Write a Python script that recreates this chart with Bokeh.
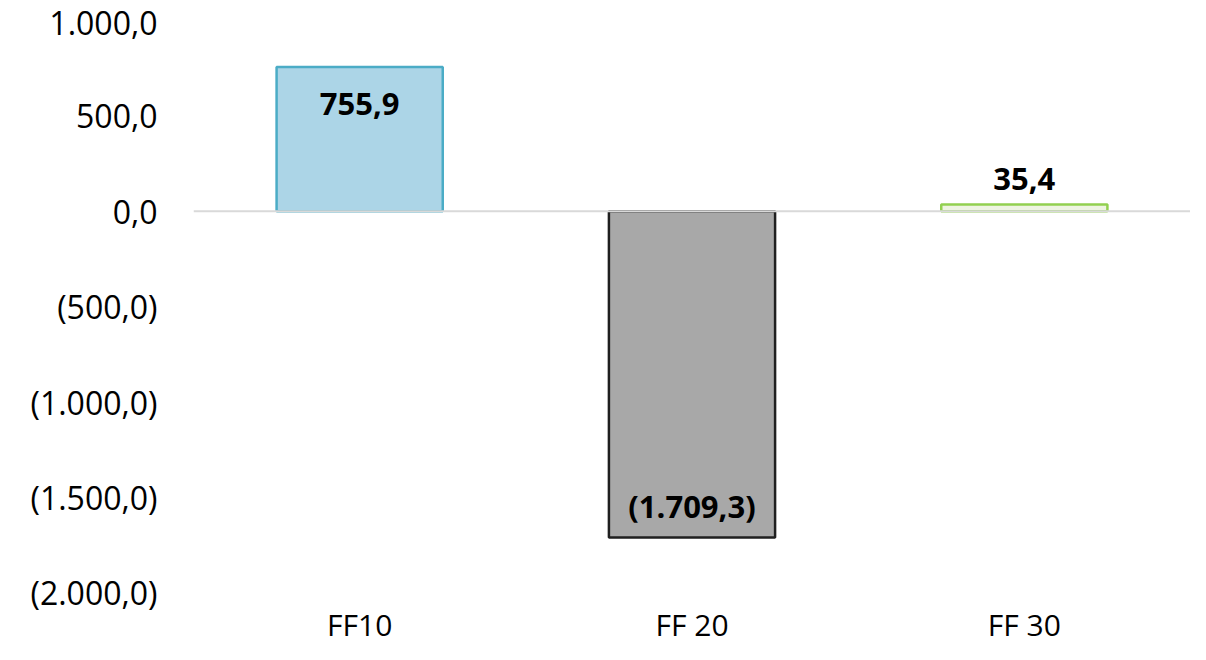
from bokeh.plotting import figure
from bokeh.models import ColumnDataSource, FactorRange, Range1d, Span, FixedTicker
from bokeh.embed import file_html
from bokeh.resources import INLINE
from bokeh.core.properties import value

categories = ["FF10", "FF 20", "FF 30"]
values = [755.9, -1709.3, 35.4]
fills = ["#acd5e7", "#a8a8a8", "#eef4e2"]
borders = ["#4bacc6", "#1f1f1f", "#92d050"]
y_ticks = [1000, 500, 0, -500, -1000, -1500, -2000]
Y_MIN, Y_MAX = -2000, 1000

def br(v, dec=1):
    s = f"{abs(v):,.{dec}f}".replace(",", "X").replace(".", ",").replace("X", ".")
    return f"({s})" if v < 0 else s

FONT = "Open Sans"

# the frame reaches down to the figure's bottom edge so the category names,
# written just under the lowest tick, are not clipped
p = figure(width=1190, height=644, x_range=FactorRange(*categories, range_padding=0),
           y_range=Range1d(-2270, Y_MAX), output_backend="svg", toolbar_location=None,
           min_border_left=193, min_border_right=0, min_border_top=20, min_border_bottom=0)
p.outline_line_color = None
p.background_fill_color = "white"
p.border_fill_color = "white"
p.xgrid.grid_line_color = None
p.ygrid.grid_line_color = None

src = ColumnDataSource(dict(x=categories, top=values, fill=fills, line=borders,
                            label=[br(v) for v in values],
                            yoff=[37 if v > 100 else (-32 if v < 0 else -26) for v in values]))

p.add_layout(Span(location=0, dimension="width", line_color="#d9d9d9", line_width=2))

p.vbar(x="x", top="top", bottom=0, width=0.5, source=src, fill_color="fill",
       line_color="line", line_width=2.5)

p.text(x="x", y="top", text="label", source=src, y_offset="yoff",
       text_align="center", text_baseline="middle", text_font=value(FONT),
       text_font_style="bold", text_font_size="31px", text_color="#000000")

p.yaxis.ticker = FixedTicker(ticks=y_ticks)
p.yaxis.major_label_overrides = {t: br(t) for t in y_ticks}
p.yaxis.axis_line_color = None
p.yaxis.major_tick_line_color = None
p.yaxis.minor_tick_line_color = None
p.yaxis.major_tick_out = 0
p.yaxis.major_tick_in = 0
p.yaxis.major_label_standoff = 36
p.yaxis.major_label_text_font = FONT
p.yaxis.major_label_text_font_size = "32px"
p.yaxis.major_label_text_color = "#000000"

# category names under the lowest tick
p.xaxis.visible = False
cat_src = ColumnDataSource(dict(x=categories, y=[Y_MIN] * len(categories), text=categories))
p.text(x="x", y="y", text="text", source=cat_src, y_offset=32,
       text_align="center", text_baseline="middle", text_font=value(FONT),
       text_font_size="30px", text_color="#000000")

open("out.html", "w").write(file_html(p, INLINE))
